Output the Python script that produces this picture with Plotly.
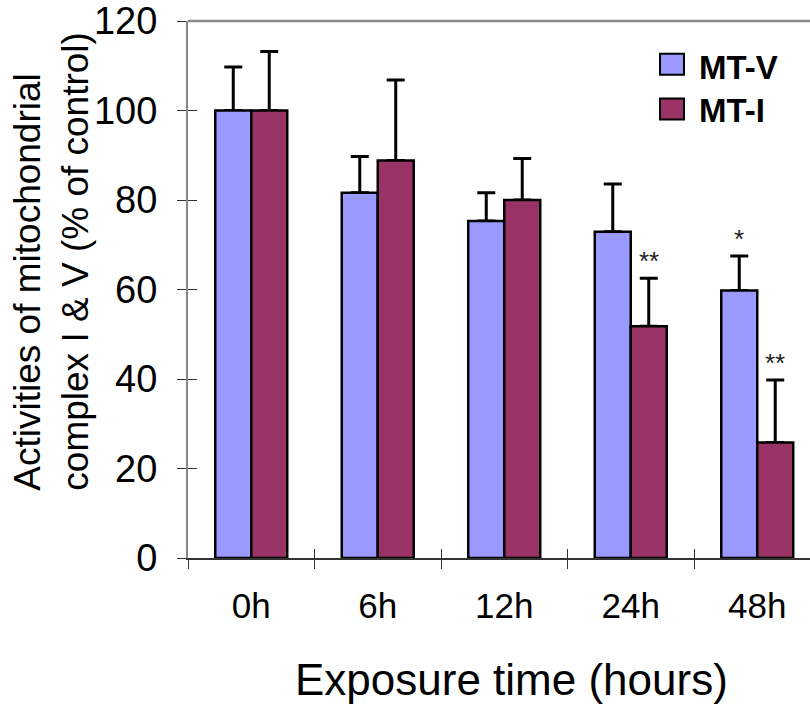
import plotly.graph_objects as go

# Exposure groups and mitochondrial complex activities (% of control)
categories = ["0h", "6h", "12h", "24h", "48h"]
mt_v = [100, 81.6, 75.3, 72.9, 59.8]
mt_v_err = [9.7, 8.1, 6.3, 10.7, 7.7]
mt_i = [100, 88.8, 80.0, 51.8, 25.8]
mt_i_err = [13.2, 18.0, 9.3, 10.7, 14.0]
mt_v_sig = ["", "", "", "", "*"]
mt_i_sig = ["", "", "", "**", "**"]
y_ticks = [0, 20, 40, 60, 80, 100, 120]

COLOR_V = "#9999FF"
COLOR_I = "#993366"
FONT = "Arial, Liberation Sans, sans-serif"

W, H = 810, 704
ML, MR, MT, MB = 188, 0, 18, 146
PW, PH = W - ML - MR, H - MT - MB
CAT_PX = 126.5  # width of one category slot in pixels
x_hi = -0.5 + PW / CAT_PX


def px(xpix):
    return (xpix - ML) / PW


def py(ypix):
    return (H - MB - ypix) / PH


fig = go.Figure()

series = [("MT-V", mt_v, mt_v_err, COLOR_V, "v"),
          ("MT-I", mt_i, mt_i_err, COLOR_I, "i")]

# Error bars first (transparent bars), so the filled bars cover the lower cap
for name, vals, errs, color, grp in series:
    fig.add_trace(go.Bar(
        x=categories, y=vals, name=name + " error", offsetgroup=grp,
        marker=dict(color="rgba(0,0,0,0)", line=dict(width=0)),
        error_y=dict(type="data", symmetric=False, array=errs,
                     arrayminus=[0] * len(errs), color="black",
                     thickness=3, width=9),
        showlegend=False, hoverinfo="skip",
    ))
for name, vals, errs, color, grp in series:
    fig.add_trace(go.Bar(
        x=categories, y=vals, name=name, offsetgroup=grp,
        marker=dict(color=color, line=dict(color="black", width=2.5)),
        showlegend=False,
    ))

# Placeholder trace so the overlay axes (inner tick marks) are laid out
fig.add_trace(go.Scatter(x=categories, y=[None] * len(categories),
                         xaxis="x2", yaxis="y2", showlegend=False,
                         hoverinfo="skip"))

# Significance markers above the error bars
annotations = []
for i, cat in enumerate(categories):
    for label, vals, errs, shift in [(mt_v_sig[i], mt_v, mt_v_err, -18),
                                     (mt_i_sig[i], mt_i, mt_i_err, 18)]:
        if label:
            annotations.append(dict(
                x=cat, y=vals[i] + errs[i], xref="x", yref="y",
                text=label, showarrow=False, xshift=shift, yshift=0,
                xanchor="center", yanchor="bottom",
                font=dict(family=FONT, size=26, color="#222")))

# Axis titles
annotations.append(dict(
    x=px(52), y=py(260), xref="paper", yref="paper",
    text="Activities of mitochondrial<br>complex I & V (% of control)",
    textangle=-90, align="left", showarrow=False,
    xanchor="center", yanchor="middle",
    font=dict(family=FONT, size=37, color="black")))
annotations.append(dict(
    x=px(511), y=py(680), xref="paper", yref="paper",
    text="Exposure time (hours)", showarrow=False,
    xanchor="center", yanchor="middle",
    font=dict(family=FONT, size=44, color="black")))

# Legend entries
shapes = []
for name, color, top, bot, tc in [("MT-V", COLOR_V, 51, 72, 65),
                                   ("MT-I", COLOR_I, 96, 117, 108.5)]:
    shapes.append(dict(type="rect", xref="paper", yref="paper",
                       x0=px(660), x1=px(684), y0=py(bot), y1=py(top),
                       fillcolor=color, line=dict(color="black", width=2)))
    annotations.append(dict(
        x=px(697), y=py(tc), xref="paper", yref="paper",
        text="<b>%s</b>" % name, showarrow=False,
        xanchor="left", yanchor="middle",
        font=dict(family=FONT, size=33, color="black")))

# Grey frame line along the top of the plot area
shapes.append(dict(type="rect", xref="paper", yref="paper",
                   x0=0, x1=1, y0=py(19.3), y1=py(16.8), layer="above",
                   fillcolor="#888888", line=dict(width=0)))

cat_axis = dict(type="category", categoryorder="array",
                categoryarray=categories, range=[-0.5, x_hi],
                showgrid=False, zeroline=False)

fig.update_layout(
    width=W, height=H,
    margin=dict(l=ML, r=MR, t=MT, b=MB, pad=0),
    paper_bgcolor="white", plot_bgcolor="white",
    barmode="group", bargap=0.431, bargroupgap=0,
    xaxis=dict(**cat_axis,
               tickson="boundaries", ticks="outside", ticklen=9,
               tickwidth=1, tickcolor="#333",
               showline=True, linecolor="#333", linewidth=1.5,
               tickfont=dict(family=FONT, size=35, color="black"),
               ticklabelstandoff=16),
    yaxis=dict(range=[0, 120], tickvals=y_ticks, ticks="outside",
               ticklen=9, tickwidth=1, tickcolor="#333",
               showline=True, linecolor="#888", linewidth=2,
               showgrid=False, zeroline=False,
               ticklabeloverflow="allow",
               tickfont=dict(family=FONT, size=38, color="black"),
               ticklabelstandoff=12),
    xaxis2=dict(**cat_axis, overlaying="x", tickson="boundaries",
                ticks="inside", ticklen=9, tickwidth=1, tickcolor="#333",
                showticklabels=False, showline=False),
    yaxis2=dict(range=[0, 120], tickvals=y_ticks, overlaying="y",
                ticks="inside", ticklen=9, tickwidth=1, tickcolor="#333",
                showticklabels=False, showline=False, showgrid=False,
                zeroline=False),
    annotations=annotations,
    shapes=shapes,
)

fig.write_html("out.html")
